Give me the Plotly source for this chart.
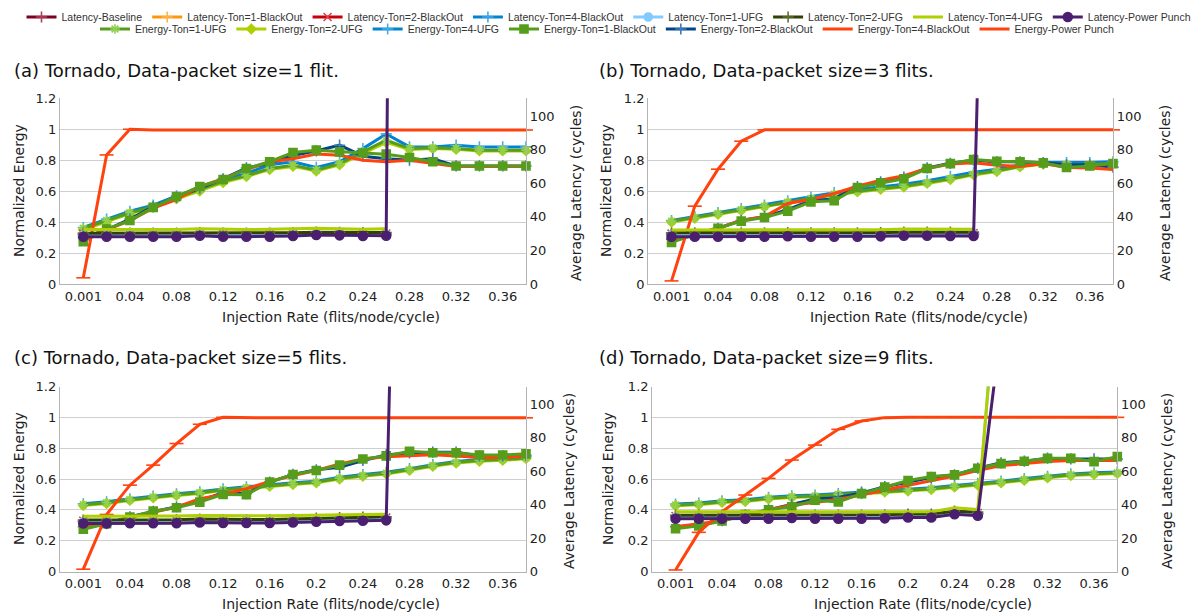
import plotly.graph_objects as go
from plotly.subplots import make_subplots

N = None
rates = ["0.001", "0.02", "0.04", "0.06", "0.08", "0.1", "0.12", "0.14", "0.16", "0.18",
         "0.2", "0.22", "0.24", "0.26", "0.28", "0.3", "0.32", "0.34", "0.36", "0.38"]
tick_labels = ["0.001", "0.04", "0.08", "0.12", "0.16", "0.2", "0.24", "0.28", "0.32", "0.36"]

panel_titles = ["(a) Tornado, Data-packet size=1 flit.", "(b) Tornado, Data-packet size=3 flits.",
                "(c) Tornado, Data-packet size=5 flits.", "(d) Tornado, Data-packet size=9 flits."]

# ---------------- Latency (cycles) ----------------
lat_base_a = [29.3, 29.3, 29.3, 29.3, 29.3, 29.6, 29.3, 29.3, 29.3, 29.5, 29.8, 29.6, 29.4, 29.5, N, N, N, N, N, N]
lat_bo1_a = [29.6, 29.6, 29.6, 29.6, 29.6, 29.9, 29.6, 29.6, 29.6, 29.8, 30.1, 29.9, 29.7, 29.8, N, N, N, N, N, N]
lat_bo2_a = [29.9, 29.9, 29.9, 29.9, 29.9, 30.2, 29.9, 29.9, 29.9, 30.1, 30.4, 30.2, 30.0, 30.1, N, N, N, N, N, N]
lat_bo4_a = [29.5, 29.5, 29.5, 29.5, 29.5, 29.8, 29.5, 29.5, 29.5, 29.7, 30.0, 29.8, 29.6, 29.7, N, N, N, N, N, N]
lat_ufg1_a = [29.2, 29.2, 29.2, 29.2, 29.2, 29.6, 29.2, 29.2, 29.2, 29.5, 29.9, 29.7, 29.4, 29.5, N, N, N, N, N, N]
lat_ufg2_a = [30.3, 30.3, 30.3, 30.3, 30.3, 30.6, 30.3, 30.3, 30.3, 30.6, 30.9, 30.8, 30.6, 30.7, N, N, N, N, N, N]
lat_ufg4_a = [32.5, 32.5, 32.5, 32.5, 32.5, 33.0, 32.6, 32.5, 32.6, 33.0, 33.3, 33.0, 32.6, 33.0, N, N, N, N, N, N]
lat_pp_a = [28.2, 28.2, 28.2, 28.2, 28.2, 28.8, 28.2, 28.2, 28.2, 28.6, 29.2, 29.0, 28.6, 28.8, 1700, N, N, N, N, N]

lat_base_b = [29.4, 29.4, 29.4, 29.4, 29.4, 29.6, 29.4, 29.4, 29.4, 29.5, 29.8, 29.8, 29.7, 29.7, N, N, N, N, N, N]
lat_bo1_b = [29.7, 29.7, 29.7, 29.7, 29.7, 29.9, 29.7, 29.7, 29.7, 29.8, 30.1, 30.1, 30.0, 30.0, N, N, N, N, N, N]
lat_bo2_b = [30.0, 30.0, 30.0, 30.0, 30.0, 30.2, 30.0, 30.0, 30.0, 30.1, 30.4, 30.4, 30.3, 30.3, N, N, N, N, N, N]
lat_bo4_b = [29.6, 29.6, 29.6, 29.6, 29.6, 29.8, 29.6, 29.6, 29.6, 29.7, 30.0, 30.0, 29.9, 29.9, N, N, N, N, N, N]
lat_ufg1_b = [29.4, 29.4, 29.4, 29.4, 29.4, 29.6, 29.4, 29.4, 29.4, 29.5, 29.9, 29.9, 29.8, 29.8, N, N, N, N, N, N]
lat_ufg2_b = [30.5, 30.5, 30.5, 30.5, 30.5, 30.7, 30.5, 30.5, 30.5, 30.6, 31.0, 31.0, 30.9, 30.9, N, N, N, N, N, N]
lat_ufg4_b = [32.2, 32.2, 32.2, 32.2, 32.2, 32.5, 32.2, 32.2, 32.2, 32.4, 32.8, 32.8, 32.6, 32.6, N, N, N, N, N, N]
lat_pp_b = [28.2, 28.2, 28.2, 28.2, 28.2, 28.5, 28.2, 28.2, 28.2, 28.4, 28.8, 28.8, 28.6, 28.6, 560, N, N, N, N, N]

lat_base_c = [29.8, 29.8, 30.0, 30.0, 30.0, 30.4, 30.1, 30.1, 30.1, 30.4, 30.9, 31.3, 31.5, 31.7, N, N, N, N, N, N]
lat_bo1_c = [30.1, 30.1, 30.3, 30.3, 30.3, 30.7, 30.4, 30.4, 30.4, 30.7, 31.2, 31.6, 31.8, 32.0, N, N, N, N, N, N]
lat_bo2_c = [30.4, 30.4, 30.6, 30.6, 30.6, 31.0, 30.7, 30.7, 30.7, 31.0, 31.5, 31.9, 32.1, 32.3, N, N, N, N, N, N]
lat_bo4_c = [30.0, 30.0, 30.2, 30.2, 30.2, 30.6, 30.3, 30.3, 30.3, 30.6, 31.1, 31.5, 31.7, 31.9, N, N, N, N, N, N]
lat_ufg1_c = [29.7, 29.7, 29.9, 29.9, 29.9, 30.3, 30.0, 30.0, 30.0, 30.3, 30.8, 31.2, 31.4, 31.6, N, N, N, N, N, N]
lat_ufg2_c = [30.8, 30.8, 31.0, 31.0, 31.0, 31.4, 31.1, 31.1, 31.1, 31.4, 31.9, 32.3, 32.5, 32.7, N, N, N, N, N, N]
lat_ufg4_c = [33.0, 33.0, 33.1, 33.1, 33.2, 33.5, 33.3, 33.3, 33.3, 33.5, 33.8, 34.0, 34.1, 34.2, N, N, N, N, N, N]
lat_pp_c = [28.7, 28.7, 28.9, 28.9, 28.9, 29.3, 29.0, 29.0, 29.0, 29.3, 29.8, 30.2, 30.4, 30.6, 590, N, N, N, N, N]

lat_base_d = [32.6, 32.6, 32.6, 32.6, 32.6, 33.0, 32.6, 32.6, 32.6, 32.8, 33.3, 33.3, 35.3, 34.4, N, N, N, N, N, N]
lat_bo1_d = [32.9, 32.9, 32.9, 32.9, 32.9, 33.3, 32.9, 32.9, 32.9, 33.1, 33.6, 33.6, 35.6, 34.7, N, N, N, N, N, N]
lat_bo2_d = [33.2, 33.2, 33.2, 33.2, 33.2, 33.6, 33.2, 33.2, 33.2, 33.4, 33.9, 33.9, 35.9, 35.0, N, N, N, N, N, N]
lat_bo4_d = [32.8, 32.8, 32.8, 32.8, 32.8, 33.2, 32.8, 32.8, 32.8, 33.0, 33.5, 33.5, 35.5, 34.6, N, N, N, N, N, N]
lat_ufg1_d = [32.6, 32.6, 32.6, 32.6, 32.6, 33.0, 32.6, 32.6, 32.6, 32.8, 33.3, 33.3, 35.3, 34.4, 205, N, N, N, N, N]
lat_ufg2_d = [33.7, 33.7, 33.7, 33.7, 33.7, 34.1, 33.7, 33.7, 33.7, 33.9, 34.4, 34.4, 36.1, 35.5, N, N, N, N, N, N]
lat_ufg4_d = [35.7, 35.7, 35.7, 35.7, 35.7, 36.0, 35.7, 35.7, 35.7, 35.8, 35.7, 35.7, 38.1, 37.1, 200, N, N, N, N, N]
lat_pp_d = [31.6, 31.6, 31.6, 31.6, 31.6, 32.0, 31.6, 31.6, 31.6, 31.8, 32.3, 32.3, 34.3, 33.4, 145, N, N, N, N, N]

# ---------------- Normalized energy ----------------
en_ufg1_a = [0.36, 0.41, 0.46, 0.50, 0.56, 0.61, 0.665, 0.70, 0.746, 0.768, 0.735, 0.778, 0.854, 0.929, 0.875, 0.88, 0.875, 0.865, 0.865, 0.865]
en_ufg2_a = [0.35, 0.40, 0.455, 0.495, 0.55, 0.60, 0.655, 0.695, 0.74, 0.76, 0.73, 0.77, 0.845, 0.915, 0.87, 0.875, 0.87, 0.86, 0.86, 0.86]
en_ufg4_a = [0.365, 0.42, 0.47, 0.51, 0.57, 0.62, 0.675, 0.715, 0.77, 0.79, 0.753, 0.79, 0.875, 0.97, 0.886, 0.886, 0.897, 0.886, 0.886, 0.886]
en_bo1_a = [0.273, 0.355, 0.41, 0.495, 0.565, 0.63, 0.675, 0.746, 0.79, 0.85, 0.865, 0.854, 0.847, 0.839, 0.817, 0.79, 0.763, 0.763, 0.763, 0.763]
en_bo2_a = [0.30, 0.35, 0.42, 0.50, 0.56, 0.62, 0.68, 0.75, 0.78, 0.83, 0.86, 0.897, 0.826, 0.81, 0.80, 0.81, 0.763, 0.763, 0.763, 0.763]
en_bo4_a = [0.30, 0.35, 0.41, 0.49, 0.546, 0.63, 0.68, 0.74, 0.79, 0.81, 0.84, 0.832, 0.80, 0.79, 0.80, 0.78, 0.76, 0.76, 0.76, 0.76]
en_pp_a = [0.04, 0.834, 1.0, 0.995, 0.995, 0.995, 0.995, 0.995, 0.995, 0.995, 0.995, 0.995, 0.995, 0.995, 0.995, 0.995, 0.995, 0.995, 0.995, 0.995]

en_ufg1_b = [0.406, 0.43, 0.456, 0.48, 0.503, 0.529, 0.553, 0.58, 0.60, 0.617, 0.632, 0.654, 0.68, 0.71, 0.731, 0.761, 0.778, 0.772, 0.772, 0.778]
en_ufg2_b = [0.40, 0.425, 0.45, 0.475, 0.498, 0.524, 0.548, 0.575, 0.595, 0.612, 0.627, 0.65, 0.675, 0.705, 0.727, 0.757, 0.774, 0.768, 0.768, 0.775]
en_ufg4_b = [0.41, 0.436, 0.462, 0.487, 0.51, 0.537, 0.562, 0.59, 0.61, 0.628, 0.645, 0.668, 0.695, 0.722, 0.742, 0.77, 0.785, 0.785, 0.785, 0.79]
en_bo1_b = [0.269, 0.32, 0.36, 0.406, 0.43, 0.471, 0.531, 0.538, 0.624, 0.654, 0.68, 0.746, 0.778, 0.804, 0.793, 0.79, 0.783, 0.753, 0.763, 0.778]
en_bo2_b = [0.29, 0.32, 0.36, 0.41, 0.435, 0.48, 0.54, 0.55, 0.63, 0.66, 0.69, 0.75, 0.78, 0.80, 0.79, 0.79, 0.783, 0.77, 0.77, 0.755]
en_bo4_b = [0.284, 0.32, 0.36, 0.413, 0.435, 0.52, 0.546, 0.585, 0.632, 0.671, 0.70, 0.746, 0.776, 0.783, 0.768, 0.76, 0.778, 0.753, 0.75, 0.74]
en_pp_b = [0.02, 0.503, 0.742, 0.923, 0.996, 0.996, 0.996, 0.996, 0.996, 0.996, 0.996, 0.996, 0.996, 0.996, 0.996, 0.996, 0.996, 0.996, 0.996, 0.996]

en_ufg1_c = [0.433, 0.446, 0.466, 0.483, 0.498, 0.511, 0.53, 0.543, 0.558, 0.569, 0.58, 0.605, 0.623, 0.638, 0.661, 0.687, 0.708, 0.72, 0.726, 0.737]
en_ufg2_c = [0.428, 0.441, 0.461, 0.478, 0.493, 0.506, 0.525, 0.538, 0.553, 0.564, 0.575, 0.60, 0.618, 0.633, 0.656, 0.682, 0.703, 0.715, 0.721, 0.732]
en_ufg4_c = [0.439, 0.452, 0.472, 0.489, 0.504, 0.517, 0.536, 0.549, 0.564, 0.575, 0.586, 0.611, 0.629, 0.644, 0.667, 0.693, 0.714, 0.726, 0.732, 0.743]
en_bo1_c = [0.274, 0.31, 0.353, 0.392, 0.414, 0.45, 0.50, 0.498, 0.58, 0.629, 0.655, 0.69, 0.73, 0.75, 0.78, 0.77, 0.77, 0.756, 0.756, 0.763]
en_bo2_c = [0.29, 0.31, 0.355, 0.39, 0.42, 0.46, 0.51, 0.505, 0.58, 0.63, 0.66, 0.676, 0.72, 0.756, 0.77, 0.774, 0.774, 0.75, 0.75, 0.753]
en_bo4_c = [0.289, 0.31, 0.35, 0.386, 0.418, 0.472, 0.50, 0.537, 0.584, 0.623, 0.655, 0.698, 0.73, 0.745, 0.75, 0.758, 0.75, 0.74, 0.74, 0.75]
en_pp_c = [0.015, 0.37, 0.56, 0.69, 0.83, 0.955, 1.0, 0.997, 0.997, 0.997, 0.997, 0.997, 0.997, 0.997, 0.997, 0.997, 0.997, 0.997, 0.997, 0.997]

en_ufg1_d = [0.432, 0.438, 0.453, 0.459, 0.475, 0.485, 0.49, 0.50, 0.51, 0.521, 0.527, 0.537, 0.552, 0.565, 0.58, 0.597, 0.612, 0.627, 0.634, 0.64]
en_ufg2_d = [0.427, 0.433, 0.448, 0.454, 0.47, 0.48, 0.485, 0.495, 0.505, 0.516, 0.522, 0.532, 0.547, 0.56, 0.575, 0.592, 0.607, 0.622, 0.629, 0.635]
en_ufg4_d = [0.438, 0.444, 0.459, 0.465, 0.481, 0.491, 0.496, 0.506, 0.516, 0.527, 0.533, 0.543, 0.558, 0.571, 0.586, 0.603, 0.618, 0.633, 0.64, 0.646]
en_bo1_d = [0.277, 0.296, 0.328, 0.37, 0.40, 0.42, 0.462, 0.451, 0.505, 0.548, 0.59, 0.616, 0.627, 0.67, 0.70, 0.715, 0.734, 0.734, 0.713, 0.745]
en_bo2_d = [0.29, 0.30, 0.33, 0.365, 0.40, 0.435, 0.47, 0.48, 0.51, 0.55, 0.58, 0.61, 0.627, 0.67, 0.705, 0.716, 0.735, 0.73, 0.73, 0.73]
en_bo4_d = [0.291, 0.31, 0.33, 0.36, 0.40, 0.432, 0.447, 0.469, 0.496, 0.529, 0.558, 0.59, 0.62, 0.655, 0.687, 0.70, 0.714, 0.72, 0.72, 0.72]
en_pp_d = [0.01, 0.254, 0.388, 0.496, 0.604, 0.723, 0.82, 0.922, 0.976, 0.998, 1.0, 1.0, 1.0, 1.0, 1.0, 1.0, 1.0, 1.0, 1.0, 1.0]

latency_names = ["Latency-Baseline", "Latency-Ton=1-BlackOut", "Latency-Ton=2-BlackOut", "Latency-Ton=4-BlackOut",
                 "Latency-Ton=1-UFG", "Latency-Ton=2-UFG", "Latency-Ton=4-UFG", "Latency-Power Punch"]
energy_names = ["Energy-Ton=1-UFG", "Energy-Ton=2-UFG", "Energy-Ton=4-UFG", "Energy-Ton=1-BlackOut",
                "Energy-Ton=2-BlackOut", "Energy-Ton=4-BlackOut", "Energy-Power Punch"]

latency_data = [
    [lat_base_a, lat_bo1_a, lat_bo2_a, lat_bo4_a, lat_ufg1_a, lat_ufg2_a, lat_ufg4_a, lat_pp_a],
    [lat_base_b, lat_bo1_b, lat_bo2_b, lat_bo4_b, lat_ufg1_b, lat_ufg2_b, lat_ufg4_b, lat_pp_b],
    [lat_base_c, lat_bo1_c, lat_bo2_c, lat_bo4_c, lat_ufg1_c, lat_ufg2_c, lat_ufg4_c, lat_pp_c],
    [lat_base_d, lat_bo1_d, lat_bo2_d, lat_bo4_d, lat_ufg1_d, lat_ufg2_d, lat_ufg4_d, lat_pp_d],
]
energy_data = [
    [en_ufg1_a, en_ufg2_a, en_ufg4_a, en_bo1_a, en_bo2_a, en_bo4_a, en_pp_a],
    [en_ufg1_b, en_ufg2_b, en_ufg4_b, en_bo1_b, en_bo2_b, en_bo4_b, en_pp_b],
    [en_ufg1_c, en_ufg2_c, en_ufg4_c, en_bo1_c, en_bo2_c, en_bo4_c, en_pp_c],
    [en_ufg1_d, en_ufg2_d, en_ufg4_d, en_bo1_d, en_bo2_d, en_bo4_d, en_pp_d],
]

# styles: (line color, marker symbol, marker color, marker size)
latency_styles = [
    ("#7E0021", "cross-thin-open", "#B0405A", 8),
    ("#FF950E", "cross-thin-open", "#FFB450", 8),
    ("#C5000B", "x-thin-open", "#E04048", 8),
    ("#0084D1", "cross-thin-open", "#40A8E8", 8),
    ("#83CAFF", "circle", "#83CAFF", 8),
    ("#314004", "cross-thin-open", "#607030", 8),
    ("#AECF00", None, None, 0),
    ("#4B1F6F", "circle", "#4B1F6F", 9),
]
energy_styles = [
    ("#579D1C", "asterisk-open", "#8FD14F", 8),
    ("#AECF00", "diamond", "#AECF00", 7),
    ("#0084D1", "cross-thin-open", "#45AEEA", 8),
    ("#579D1C", "square", "#579D1C", 8),
    ("#004586", "cross-thin-open", "#3D7CC0", 8),
    ("#FF420E", None, None, 0),
    ("#FF420E", "line-ew-open", "#FF420E", 10),
]
# drawing order of energy series (bottom to top); legend order is kept with legendrank
energy_draw_order = [2, 1, 0, 4, 5, 3, 6]

# The page body adds an 8px offset; the figure is sized to the visible area.
OFF = 8
W, H = 1204 - OFF, 613 - OFF


def px(xp):
    return (xp - OFF) / W


def py(yp):
    return 1 - (yp - OFF) / H


# pixel boxes for plot areas in the target picture (left, right, top, bottom)
boxes = [(60, 526, 98.3, 284), (648.3, 1113, 98.3, 284), (60, 526, 386.5, 571.5), (652.3, 1117.3, 386.5, 571.5)]

fig = make_subplots(rows=2, cols=2, specs=[[{"secondary_y": True}, {"secondary_y": True}],
                                           [{"secondary_y": True}, {"secondary_y": True}]])

cells = [(1, 1), (1, 2), (2, 1), (2, 2)]
for p, (r, c) in enumerate(cells):
    for k in energy_draw_order:
        name, ys = energy_names[k], energy_data[p][k]
        col, sym, mcol, msz = energy_styles[k]
        mode = "lines+markers" if sym else "lines"
        marker = dict(symbol=sym, color=mcol, size=msz, line=dict(color=mcol, width=1.6)) if sym else None
        fig.add_trace(go.Scatter(x=rates, y=ys, name=name, mode=mode, line=dict(color=col, width=3),
                                 marker=marker, legend="legend2", legendrank=100 + k, showlegend=(p == 0),
                                 cliponaxis=False, connectgaps=False), row=r, col=c, secondary_y=False)
    for k, (name, ys) in enumerate(zip(latency_names, latency_data[p])):
        col, sym, mcol, msz = latency_styles[k]
        mode = "lines+markers" if sym else "lines"
        marker = dict(symbol=sym, color=mcol, size=msz, line=dict(color=mcol, width=1.6)) if sym else None
        fig.add_trace(go.Scatter(x=rates, y=ys, name=name, mode=mode, line=dict(color=col, width=3),
                                 marker=marker, legend="legend", legendrank=100 + k, showlegend=(p == 0),
                                 cliponaxis=True, connectgaps=False), row=r, col=c, secondary_y=True)

axis_line = "#b3b3b3"
grid = "#cfcfcf"
tick_font = dict(family="DejaVu Sans", size=13, color="#222222")
xnames = ["xaxis", "xaxis2", "xaxis3", "xaxis4"]
ynames = [("yaxis", "yaxis2"), ("yaxis3", "yaxis4"), ("yaxis5", "yaxis6"), ("yaxis7", "yaxis8")]
layout_updates = {}
for p in range(4):
    l, rgt, t, b = boxes[p]
    xd = [px(l), px(rgt)]
    yd = [py(b), py(t)]
    layout_updates[xnames[p]] = dict(domain=xd, type="category", range=[-1, 19], tickmode="array",
                                     tickvals=tick_labels, ticktext=tick_labels, showgrid=False,
                                     showline=True, linecolor=axis_line, linewidth=1.3, ticks="",
                                     tickfont=tick_font, zeroline=False, automargin=False)
    y1, y2 = ynames[p]
    layout_updates[y1] = dict(domain=yd, range=[0, 1.2], tickvals=[0, 0.2, 0.4, 0.6, 0.8, 1.0, 1.2],
                              ticktext=["0", "0.2", "0.4", "0.6", "0.8", "1", "1.2"],
                              showgrid=True, gridcolor=grid, gridwidth=1, showline=True,
                              linecolor=axis_line, linewidth=1.3, ticks="", tickfont=tick_font,
                              zeroline=False, automargin=False)
    layout_updates[y2] = dict(range=[0, 110.7], tickvals=[0, 20, 40, 60, 80, 100], showgrid=False,
                              showline=True, linecolor=axis_line, linewidth=1.3, ticks="",
                              tickfont=tick_font, zeroline=False, side="right", automargin=False)
fig.update_layout(**layout_updates)

annotations = []
title_pos = [(12, 70), (597, 70), (12, 357), (597, 357)]
for p in range(4):
    tx, ty = title_pos[p]
    annotations.append(dict(text=panel_titles[p], x=px(tx), y=py(ty), xref="paper", yref="paper",
                            xanchor="left", yanchor="middle", showarrow=False,
                            font=dict(family="DejaVu Sans", size=18, color="#111111")))
title_font = dict(family="DejaVu Sans", size=14, color="#222222")
xt_pos = [(331, 317), (919, 317), (331, 604), (923, 604)]
lt_pos = [(19, 191), (606, 191), (19, 479), (608, 479)]
rt_pos = [(576, 193), (1165, 193), (569, 481), (1167, 481)]
for p in range(4):
    xx, yy = xt_pos[p]
    annotations.append(dict(text="Injection Rate (flits/node/cycle)", x=px(xx), y=py(yy), xref="paper",
                            yref="paper", xanchor="center", yanchor="middle", showarrow=False,
                            font=title_font))
    xx, yy = lt_pos[p]
    annotations.append(dict(text="Normalized Energy", x=px(xx), y=py(yy), xref="paper", yref="paper",
                            xanchor="center", yanchor="middle", showarrow=False, textangle=-90,
                            font=title_font))
    xx, yy = rt_pos[p]
    annotations.append(dict(text="Average Latency (cycles)", x=px(xx), y=py(yy), xref="paper",
                            yref="paper", xanchor="center", yanchor="middle", showarrow=False, textangle=-90,
                            font=title_font))

legend_font = dict(family="Liberation Sans", size=10.5, color="#333333")
fig.update_layout(
    width=W, height=H, template="none",
    paper_bgcolor="white", plot_bgcolor="white",
    margin=dict(l=0, r=0, t=0, b=0, pad=0, autoexpand=False),
    annotations=annotations,
    legend=dict(orientation="h", x=px(609), xanchor="center", y=py(17), yanchor="middle",
                font=legend_font, bgcolor="rgba(0,0,0,0)", itemwidth=30, tracegroupgap=0),
    legend2=dict(orientation="h", x=px(607), xanchor="center", y=py(29), yanchor="middle",
                 font=legend_font, bgcolor="rgba(0,0,0,0)", itemwidth=30, tracegroupgap=0),
)

fig.write_html("out.html")
